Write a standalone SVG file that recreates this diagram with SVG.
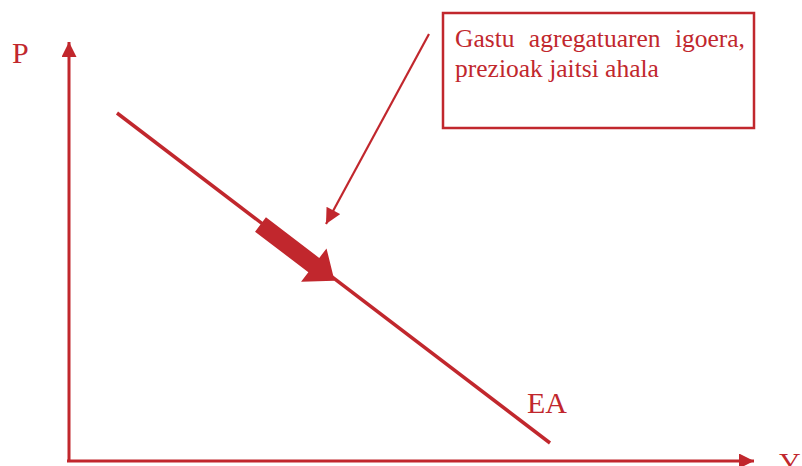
<svg xmlns="http://www.w3.org/2000/svg" width="802" height="466" viewBox="0 0 802 466">
<defs>
<style>
.ln{stroke:#c1272d;fill:none}
.t{font-family:"Liberation Serif","Times New Roman",serif;fill:#c1272d}
</style>
<marker id="ah" viewBox="0 0 10 10" refX="10" refY="5" markerWidth="7.5" markerHeight="7" markerUnits="strokeWidth" orient="auto"><path d="M0,0 L10,5 L0,10 Z" fill="#c1272d"/></marker>
<marker id="ax" viewBox="0 0 10 10" refX="10" refY="5" markerWidth="5" markerHeight="5" markerUnits="strokeWidth" orient="auto"><path d="M0,0 L10,5 L0,10 Z" fill="#c1272d"/></marker>
</defs>
<rect width="802" height="466" fill="#fff"/>
<g id="axes">
<line class="ln" x1="69" y1="461" x2="69" y2="42" stroke-width="3" marker-end="url(#ax)"/>
<line class="ln" x1="67" y1="461" x2="754" y2="461" stroke-width="3" marker-end="url(#ax)"/>
<text class="t" x="12" y="63" font-size="30">P</text>
<text class="t" x="779" y="473" font-size="30">Y</text>
</g>
<g id="ea-curve">
<line class="ln" x1="117" y1="113" x2="550" y2="443" stroke-width="3.5"/>
<text class="t" x="527" y="413" font-size="30">EA</text>
</g>
<g id="shift-arrow">
<polygon transform="translate(260.5,224.5) rotate(37.3)" points="0,-9 67,-9 67,-21 93,0 67,21 67,9 0,9" fill="#c1272d"/>
</g>
<g id="note">
<rect x="443" y="13" width="311" height="115" fill="#fff" stroke="#c1272d" stroke-width="2.5"/>
<text class="t" font-size="25.5"><tspan x="455" y="47" word-spacing="8">Gastu agregatuaren igoera,</tspan><tspan x="455" y="77">prezioak jaitsi ahala</tspan></text>
</g>
<g id="connectors">
<line class="ln" x1="429" y1="34" x2="326" y2="224" stroke-width="2.2" marker-end="url(#ah)"/>
</g>
</svg>
